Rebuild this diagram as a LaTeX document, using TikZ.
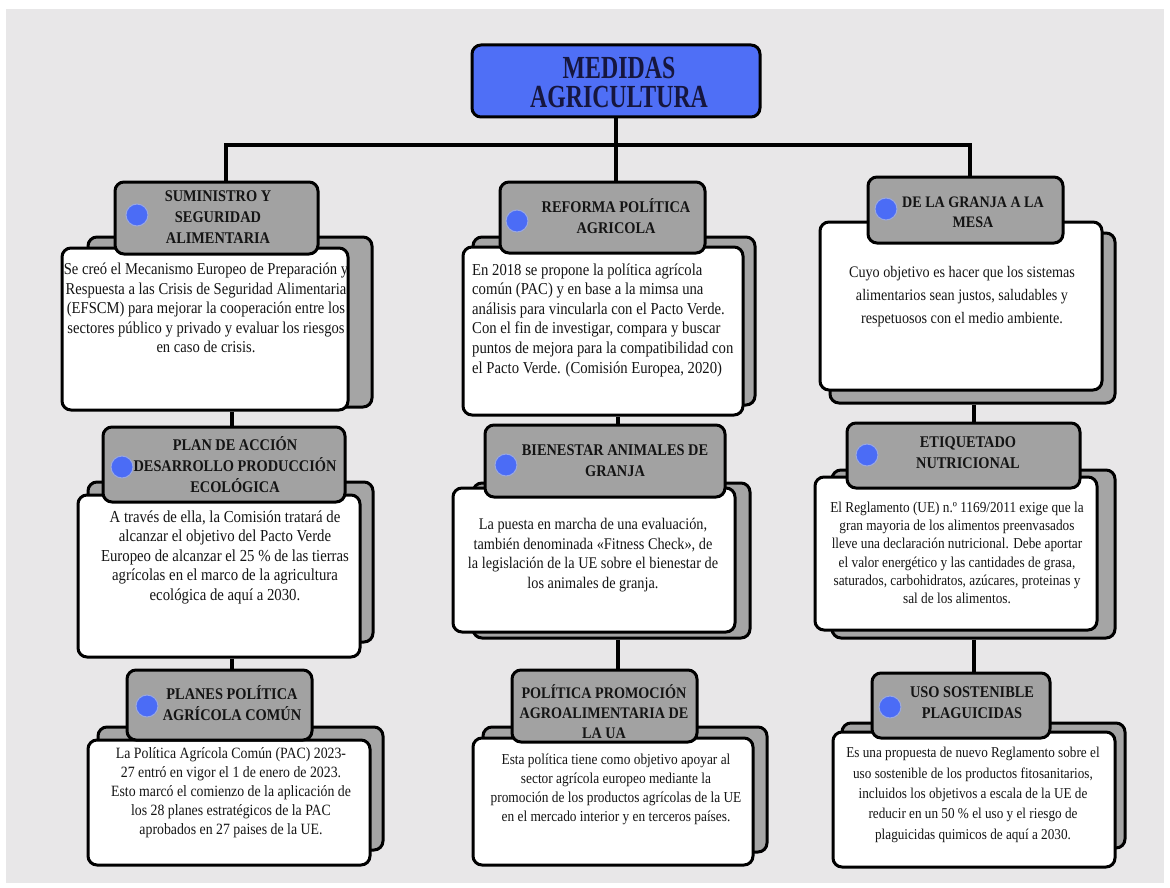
\documentclass[tikz,border=0pt]{standalone}
\usepackage{fontspec}
\setmainfont{Liberation Serif}[FakeStretch=0.88]
\newfontfamily\titlefont{Liberation Serif}[FakeStretch=0.74]
\definecolor{bgc}{HTML}{E8E7E8}
\definecolor{titleblue}{HTML}{4F6FF6}
\definecolor{headgray}{HTML}{A2A2A2}
\definecolor{shadowgray}{HTML}{A5A5A5}
\definecolor{dotblue}{HTML}{4B6CF6}
\definecolor{dotring}{HTML}{9AA8E0}
\definecolor{txt}{HTML}{141414}
\definecolor{titletxt}{HTML}{16163E}
\pgfdeclarelayer{back}
\pgfdeclarelayer{lines}
\pgfsetlayers{back,lines,main}
\tikzset{
  boxbase/.style={draw=black, line width=3pt, rounded corners=9pt, inner sep=0pt},
  titlebox/.style={boxbase, fill=titleblue},
  shadowbox/.style={boxbase, fill=shadowgray},
  whitebox/.style={boxbase, fill=white},
  headbox/.style={boxbase, fill=headgray},
  dot/.style={circle, fill=dotblue, draw=dotring, line width=1pt, minimum size=22pt, inner sep=0pt},
  conn/.style={line width=4.5pt, draw=black, line join=miter},
  bodytxt/.style={align=center, inner sep=0pt, text=txt},
  headtxt/.style={align=center, inner sep=0pt, text=txt, font=\bfseries\fontsize{16.3}{21}\selectfont},
}
\newcommand\mkbox[6]{\node[#2, minimum width={(#5-#3)*1pt}, minimum height={(#6-#4)*1pt}] (#1) at ({(#3+#5)/2},{(#4+#6)/2}) {};}
\begin{document}
\begin{tikzpicture}[x=1pt,y=-1pt]
\useasboundingbox (0,0) rectangle (1170,888);
\begin{pgfonlayer}{back}
\fill[bgc] (6,9) rectangle (1164,883);
\end{pgfonlayer}

% title
\mkbox{title}{titlebox}{472}{45}{760}{117}
\node[align=center, inner sep=0pt, text=titletxt, font=\titlefont\bfseries\fontsize{32.2}{29}\selectfont] (ttl) at (619,82) {MEDIDAS\\AGRICULTURA};

% ---------- column 1 ----------
\mkbox{c1s1}{shadowbox}{88}{237}{372}{407}
\mkbox{c1w1}{whitebox}{62}{248}{348}{410}
\mkbox{c1h1}{headbox}{115}{182}{318}{254}
\node[dot] (c1d1) at (137,215) {};
\node[headtxt] (c1t1) at (218,217) {SUMINISTRO Y\\SEGURIDAD\\ALIMENTARIA};
\node[bodytxt, font=\fontsize{16.6}{19.6}\selectfont] (c1b1) at (206,308)
 {Se creó el Mecanismo Europeo de Preparación y\\Respuesta a las Crisis de Seguridad Alimentaria\\(EFSCM) para mejorar la cooperación entre los\\sectores público y privado y evaluar los riesgos\\en caso de crisis.};

\mkbox{c1s2}{shadowbox}{88}{482}{373}{642}
\mkbox{c1w2}{whitebox}{78}{495}{360}{657}
\mkbox{c1h2}{headbox}{103}{427}{345}{502}
\node[dot] (c1d2) at (122,467) {};
\node[headtxt] (c1t2) at (235,465) {PLAN DE ACCIÓN\\DESARROLLO PRODUCCIÓN\\ECOLÓGICA};
\node[bodytxt, font=\fontsize{16.8}{19.5}\selectfont] (c1b2) at (225,557)
 {A través de ella, la Comisión tratará de\\alcanzar el objetivo del Pacto Verde\\Europeo de alcanzar el 25~\% de las tierras\\agrícolas en el marco de la agricultura\\ecológica de aquí a 2030.};

\mkbox{c1s3}{shadowbox}{98}{727}{383}{850}
\mkbox{c1w3}{whitebox}{88}{740}{370}{865}
\mkbox{c1h3}{headbox}{127}{670}{312}{740}
\node[dot] (c1d3) at (147,706) {};
\node[headtxt] (c1t3) at (232,703) {PLANES POLÍTICA\\AGRÍCOLA COMÚN};
\node[bodytxt, font=\fontsize{15.7}{19}\selectfont] (c1b3) at (231,793)
 {La Política Agrícola Común (PAC) 2023-\\27 entró en vigor el 1 de enero de 2023.\\Esto marcó el comienzo de la aplicación de\\los 28 planes estratégicos de la PAC\\aprobados en 27 paises de la UE.};

% ---------- column 2 ----------
\mkbox{c2s1}{shadowbox}{473}{237}{755}{405}
\mkbox{c2w1}{whitebox}{463}{247}{743}{415}
\mkbox{c2h1}{headbox}{500}{182}{705}{253}
\node[dot] (c2d1) at (517,221) {};
\node[headtxt] (c2t1) at (616,216) {REFORMA POLÍTICA\\AGRICOLA};
\node[bodytxt, align=left, anchor=west, font=\fontsize{16.7}{19.6}\selectfont] (c2b1) at (472,320)
 {En 2018 se propone la política agrícola\\común (PAC) y en base a la mimsa una\\análisis para vincularla con el Pacto Verde.\\Con el fin de investigar, compara y buscar\\puntos de mejora para la compatibilidad con\\el Pacto Verde. (Comisión Europea, 2020)};

\mkbox{c2s2}{shadowbox}{473}{483}{750}{638}
\mkbox{c2w2}{whitebox}{453}{488}{735}{632}
\mkbox{c2h2}{headbox}{485}{425}{725}{497}
\node[dot] (c2d2) at (506,465) {};
\node[headtxt] (c2t2) at (615,461) {BIENESTAR ANIMALES DE\\GRANJA};
\node[bodytxt, font=\fontsize{16.25}{19.5}\selectfont] (c2b2) at (593,555)
 {La puesta en marcha de una evaluación,\\también denominada «Fitness Check», de\\la legislación de la UE sobre el bienestar de\\los animales de granja.};

\mkbox{c2s3}{shadowbox}{483}{727}{767}{852}
\mkbox{c2w3}{whitebox}{473}{738}{753}{865}
\mkbox{c2h3}{headbox}{512}{670}{697}{742}
\node[headtxt, font=\bfseries\fontsize{16.1}{20}\selectfont] (c2t3) at (604,712) {POLÍTICA PROMOCIÓN\\AGROALIMENTARIA DE\\LA UA};
\node[bodytxt, font=\fontsize{15.2}{19}\selectfont] (c2b3) at (616,789)
 {Esta política tiene como objetivo apoyar al\\sector agrícola europeo mediante la\\promoción de los productos agrícolas de la UE\\en el mercado interior y en terceros países.};

% ---------- column 3 ----------
\mkbox{c3s1}{shadowbox}{830}{233}{1115}{403}
\mkbox{c3w1}{whitebox}{820}{222}{1102}{390}
\mkbox{c3h1}{headbox}{868}{177}{1063}{243}
\node[dot] (c3d1) at (886,209) {};
\node[headtxt, font=\bfseries\fontsize{16}{20}\selectfont] (c3t1) at (973,212) {DE LA GRANJA A LA\\MESA};
\node[bodytxt, font=\fontsize{16.1}{23}\selectfont] (c3b1) at (962,297)
 {Cuyo objetivo es hacer que los sistemas\\alimentarios sean justos, saludables y\\respetuosos con el medio ambiente.};

\mkbox{c3s2}{shadowbox}{832}{470}{1115}{638}
\mkbox{c3w2}{whitebox}{815}{477}{1097}{630}
\mkbox{c3h2}{headbox}{847}{423}{1080}{488}
\node[dot] (c3d2) at (867,455) {};
\node[headtxt] (c3t2) at (968,453) {ETIQUETADO\\NUTRICIONAL};
\node[bodytxt, font=\fontsize{15.1}{18.3}\selectfont] (c3b2) at (957,553)
 {El Reglamento (UE) n.º 1169/2011 exige que la\\gran mayoria de los alimentos preenvasados\\lleve una declaración nutricional. Debe aportar\\el valor energético y las cantidades de grasa,\\saturados, carbohidratos, azúcares, proteinas y\\sal de los alimentos.};

\mkbox{c3s3}{shadowbox}{842}{723}{1125}{848}
\mkbox{c3w3}{whitebox}{833}{732}{1115}{867}
\mkbox{c3h3}{headbox}{872}{673}{1050}{738}
\node[dot] (c3d3) at (890,707) {};
\node[headtxt] (c3t3) at (972,703) {USO SOSTENIBLE\\PLAGUICIDAS};
\node[bodytxt, font=\fontsize{15.0}{20.3}\selectfont] (c3b3) at (973,795)
 {Es una propuesta de nuevo Reglamento sobre el\\uso sostenible de los productos fitosanitarios,\\incluidos los objetivos a escala de la UE de\\reducir en un 50~\% el uso y el riesgo de\\plaguicidas quimicos de aquí a 2030.};

% ---------- connectors ----------
\coordinate (hl) at (226,145);
\coordinate (hm) at (616,145);
\coordinate (hr) at (970,145);
\coordinate (k1) at (232,0);
\coordinate (k2) at (618,0);
\coordinate (k3) at (974,0);
\begin{pgfonlayer}{lines}
\draw[conn] (title.south) -- (hm);
\draw[conn] (hl |- c1h1.north) -- (hl) -- (hr) -- (hr |- c3h1.north);
\draw[conn] (hm) -- (hm |- c2h1.north);
\draw[conn] (c1w1.south -| k1) -- (c1h2.north -| k1);
\draw[conn] (c1w2.south -| k1) -- (c1h3.north -| k1);
\draw[conn] (c2w1.south -| k2) -- (c2h2.north -| k2);
\draw[conn] (c2s2.south -| k2) -- (c2h3.north -| k2);
\draw[conn] (c3s1.south -| k3) -- (c3h2.north -| k3);
\draw[conn] (c3s2.south -| k3) -- (c3h3.north -| k3);
\end{pgfonlayer}
\end{tikzpicture}
\end{document}
